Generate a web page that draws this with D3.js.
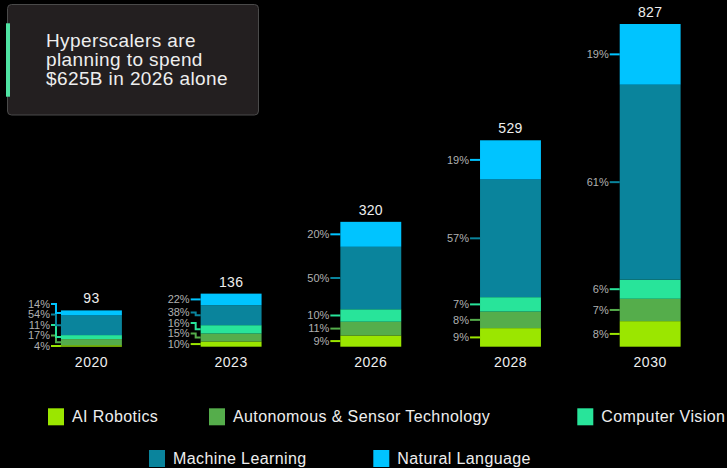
<!DOCTYPE html>
<html>
<head>
<meta charset="utf-8">
<script src="https://cdn.jsdelivr.net/npm/d3@7"></script>
<style>
  html, body { margin: 0; padding: 0; background: #000; }
  svg { display: block; }
  text { font-family: "Liberation Sans", Arial, sans-serif; }
</style>
</head>
<body>
<svg id="chart" width="727" height="468"></svg>
<script>
// ---- data ----
const years = ["2020", "2023", "2026", "2028", "2030"];
const totals = [93, 136, 320, 529, 827];
const seriesNames = ["AI Robotics", "Autonomous & Sensor Technology", "Computer Vision", "Machine Learning", "Natural Language"];
const aiRobotics      = [4, 10, 9, 9, 8];
const autonomous      = [17, 15, 11, 8, 7];
const computerVision  = [11, 16, 10, 7, 6];
const machineLearning = [54, 38, 50, 57, 61];
const naturalLanguage = [14, 22, 20, 19, 19];
const seriesColors = ["#9be600", "#55ad4b", "#28e49a", "#0a849c", "#00c4ff"];
const calloutLines = ["Hyperscalers are", "planning to spend", "$625B in 2026 alone"];

// ---- build table ----
const shares = [aiRobotics, autonomous, computerVision, machineLearning, naturalLanguage];
const rows = years.map((y, i) => {
  const sum = d3.sum(shares, s => s[i]);
  const r = { year: y, total: totals[i] };
  seriesNames.forEach((n, k) => { r[n] = totals[i] * shares[k][i] / sum; r[n + "_pct"] = shares[k][i]; });
  return r;
});

const svg = d3.select("#chart");
svg.append("rect").attr("width", 727).attr("height", 468).attr("fill", "#000");

const x = d3.scaleBand().domain(years).range([21.6, 720]).paddingInner(0.564).paddingOuter(0.282);
const y = d3.scaleLinear().domain([0, d3.max(totals)]).range([346.7, 24]);
const color = d3.scaleOrdinal().domain(seriesNames).range(seriesColors);

const stacked = d3.stack().keys(seriesNames)(rows);

// bars
const g = svg.append("g");
g.selectAll("g.series").data(stacked).join("g")
  .attr("fill", d => color(d.key))
  .selectAll("rect").data(d => d).join("rect")
  .attr("x", d => x(d.data.year))
  .attr("width", x.bandwidth())
  .attr("y", d => y(d[1]))
  .attr("height", d => y(d[0]) - y(d[1]));

// totals
g.selectAll("text.total").data(rows).join("text")
  .attr("class", "total")
  .attr("x", d => x(d.year) + x.bandwidth() / 2)
  .attr("y", d => y(d.total) - 7)
  .attr("text-anchor", "middle")
  .attr("fill", "#eeeeee")
  .attr("font-size", 14)
  .attr("letter-spacing", 0.3)
  .text(d => d.total);

// x axis (labels only)
const xAxis = d3.axisBottom(x).tickSize(0).tickPadding(0);
const ax = svg.append("g").attr("transform", "translate(0,357)").call(xAxis);
ax.select(".domain").remove();
ax.selectAll("text").attr("fill", "#eeeeee").attr("font-size", 14)
  .attr("letter-spacing", 0.5)
  .attr("font-family", "'Liberation Sans', Arial, sans-serif");

// percentage labels with connectors
const gap = 10.5;
rows.forEach((r, i) => {
  const left = x(r.year);
  let prev = Infinity;
  stacked.forEach(s => {
    const seg = s[i];
    const cy = (y(seg[0]) + y(seg[1])) / 2;
    const ly = Math.min(cy, prev - gap);
    prev = ly;
    const c = color(s.key);
    let path;
    if (Math.abs(ly - cy) < 0.5) {
      path = `M${left - 10},${cy}H${left}`;
    } else {
      path = `M${left - 10},${ly}H${left - 5}V${cy}H${left}`;
    }
    g.append("path").attr("d", path).attr("fill", "none")
      .attr("stroke", c).attr("stroke-width", 2);
    g.append("text")
      .attr("x", left - 11)
      .attr("y", ly)
      .attr("dy", "0.35em")
      .attr("text-anchor", "end")
      .attr("fill", "#b0b0b0")
      .attr("font-size", 11)
      .text(r[s.key + "_pct"] + "%");
  });
});

// callout
const co = svg.append("g");
co.append("rect").attr("x", 7.5).attr("y", 4.5).attr("width", 251).attr("height", 110.5)
  .attr("rx", 4).attr("fill", "#231f20").attr("stroke", "#4a4a4a").attr("stroke-width", 1);
co.append("rect").attr("x", 6).attr("y", 23.3).attr("width", 4).attr("height", 73.4)
  .attr("fill", "#4fe3a3");
co.selectAll("text").data(calloutLines).join("text")
  .attr("x", 46)
  .attr("y", (d, i) => 46.7 + i * 19.3)
  .attr("fill", "#eeeeee")
  .attr("font-size", 19)
  .attr("letter-spacing", 0.4)
  .text(d => d);

// legend
const legendPos = [[48, 408.3], [209, 408.3], [577.3, 408.3], [149, 450], [373.3, 450]];
const lg = svg.append("g");
const items = lg.selectAll("g").data(seriesNames).join("g")
  .attr("transform", (d, i) => `translate(${legendPos[i][0]},${legendPos[i][1]})`);
items.append("rect").attr("width", 16).attr("height", 17).attr("fill", d => color(d));
items.append("text").attr("x", 24).attr("y", 14)
  .attr("fill", "#eeeeee").attr("font-size", 16).attr("letter-spacing", 0.4)
  .text(d => d);
</script>
</body>
</html>
